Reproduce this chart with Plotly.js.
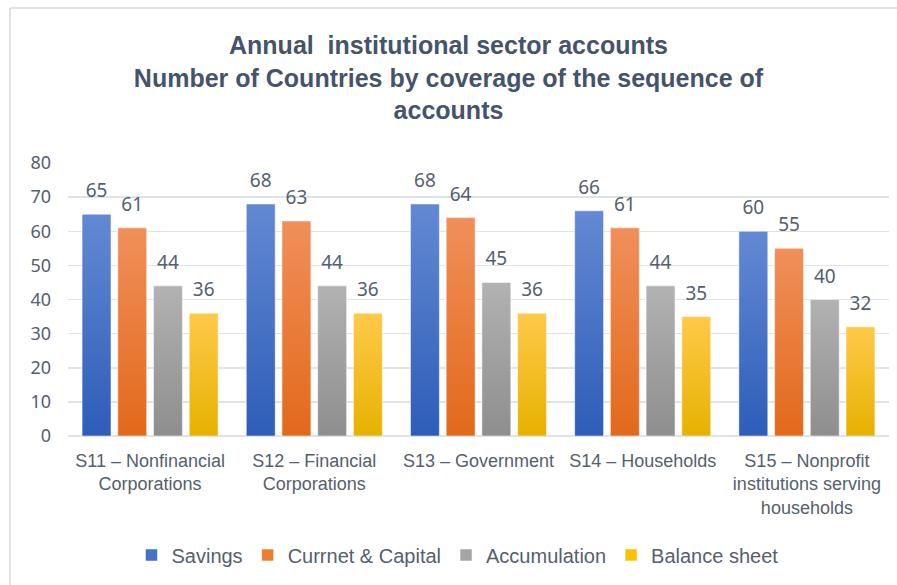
<!DOCTYPE html>
<html>
<head>
<meta charset="utf-8">
<script src="https://cdn.plot.ly/plotly-3.0.1.min.js"></script>
<style>
html,body{margin:0;padding:0;background:#fff;}
#chart{width:897px;height:585px;}
</style>
</head>
<body>
<div id="chart"></div>
<script>
const categories = [
  "S11 – Nonfinancial<br>Corporations",
  "S12 – Financial<br>Corporations",
  "S13 – Government",
  "S14 – Households",
  "S15 – Nonprofit<br>institutions serving<br>households"
];
const seriesNames = ["Savings", "Currnet & Capital", "Accumulation", "Balance sheet"];
const savings = [65, 68, 68, 66, 60];
const currentCapital = [61, 63, 64, 61, 55];
const accumulation = [44, 44, 45, 44, 40];
const balanceSheet = [36, 36, 36, 35, 32];
const yTicks = [0, 10, 20, 30, 40, 50, 60, 70, 80];

const seriesValues = [savings, currentCapital, accumulation, balanceSheet];
const colors = ["#4472c4", "#ed7d31", "#a5a5a5", "#ffc000"];
const gradients = [
  ["#6389d3", "#2d5db8"],
  ["#f18f5a", "#e2691b"],
  ["#b2b2b2", "#8e8e8e"],
  ["#ffc94a", "#e6b200"]
];
const textColor = "#55606e";

const traces = seriesValues.map((vals, i) => ({
  type: "bar",
  name: seriesNames[i],
  x: categories,
  y: vals,
  marker: {color: colors[i], line: {color: "rgba(255,255,255,0.5)", width: 1}},
  text: vals.map(String),
  textposition: "outside",
  cliponaxis: false,
  textfont: {family: "Noto Sans, DejaVu Sans, sans-serif", size: 19, color: textColor},
  hoverinfo: "skip"
}));

const layout = {
  width: 897,
  height: 585,
  margin: {l: 68, r: 8, t: 163, b: 149},
  paper_bgcolor: "#ffffff",
  plot_bgcolor: "#ffffff",
  barmode: "group",
  bargap: 0.13,
  bargroupgap: 0.19,
  title: {
    text: "<b>Annual  institutional sector accounts<br>Number of Countries by coverage of the sequence of<br>accounts</b>",
    font: {family: "Liberation Sans, Arial, sans-serif", size: 25, color: "#44546a"},
    x: 0.5, xref: "container", xanchor: "center",
    y: 1 - 54/585, yref: "container", yanchor: "top"
  },
  xaxis: {
    type: "category",
    tickfont: {family: "Liberation Sans, Arial, sans-serif", size: 18, color: textColor},
    showgrid: false,
    showline: false,
    ticks: "",
    ticklabelstandoff: 12,
    fixedrange: true
  },
  yaxis: {
    range: [0, 80],
    tickvals: yTicks,
    ticktext: yTicks.map(String),
    tickfont: {family: "Noto Sans, DejaVu Sans, sans-serif", size: 18, color: textColor},
    showgrid: true,
    gridcolor: "#dfe3e8",
    gridwidth: 1.5,
    zeroline: true,
    zerolinecolor: "#dfe3e8",
    zerolinewidth: 1.5,
    showline: false,
    ticks: "",
    ticklabelstandoff: 16,
    fixedrange: true
  },
  legend: {
    orientation: "h",
    x: 0.51, xref: "container", xanchor: "center",
    y: 1 - 555/585, yref: "container", yanchor: "middle",
    font: {family: "Liberation Sans, Arial, sans-serif", size: 20, color: textColor},
    itemwidth: 30,
    traceorder: "normal"
  },
  shapes: [
    {type: "line", xref: "paper", yref: "paper", x0: (10-68)/821, x1: (897-68)/821, y0: (585-149-8)/273, y1: (585-149-8)/273, line: {color: "#d9d9d9", width: 1.5}},
    {type: "line", xref: "paper", yref: "paper", x0: (10-68)/821, x1: (10-68)/821, y0: (585-149-8)/273, y1: (585-149-585)/273, line: {color: "#d9d9d9", width: 1.5}}
  ],
  showlegend: true
};

Plotly.newPlot("chart", traces, layout, {displayModeBar: false, staticPlot: true}).then(gd => {
  const svg = gd.querySelector("svg.main-svg");
  let defs = svg.querySelector("defs");
  const ns = "http://www.w3.org/2000/svg";
  gradients.forEach((g, i) => {
    const lg = document.createElementNS(ns, "linearGradient");
    lg.setAttribute("id", "bargrad" + i);
    lg.setAttribute("x1", "0"); lg.setAttribute("y1", "0");
    lg.setAttribute("x2", "0"); lg.setAttribute("y2", "1");
    [[0, g[0]], [1, g[1]]].forEach(([o, c]) => {
      const st = document.createElementNS(ns, "stop");
      st.setAttribute("offset", o);
      st.setAttribute("stop-color", c);
      lg.appendChild(st);
    });
    defs.appendChild(lg);
  });
  gd.querySelectorAll(".barlayer .trace.bars").forEach((tr, i) => {
    tr.querySelectorAll(".point path").forEach(p => { p.style.fill = "url(#bargrad" + i + ")"; });
    tr.querySelectorAll("text.bartext").forEach(t => {
      t.setAttribute("transform", (t.getAttribute("transform") || "") + " translate(0,-8)");
    });
  });
});
</script>
</body>
</html>
